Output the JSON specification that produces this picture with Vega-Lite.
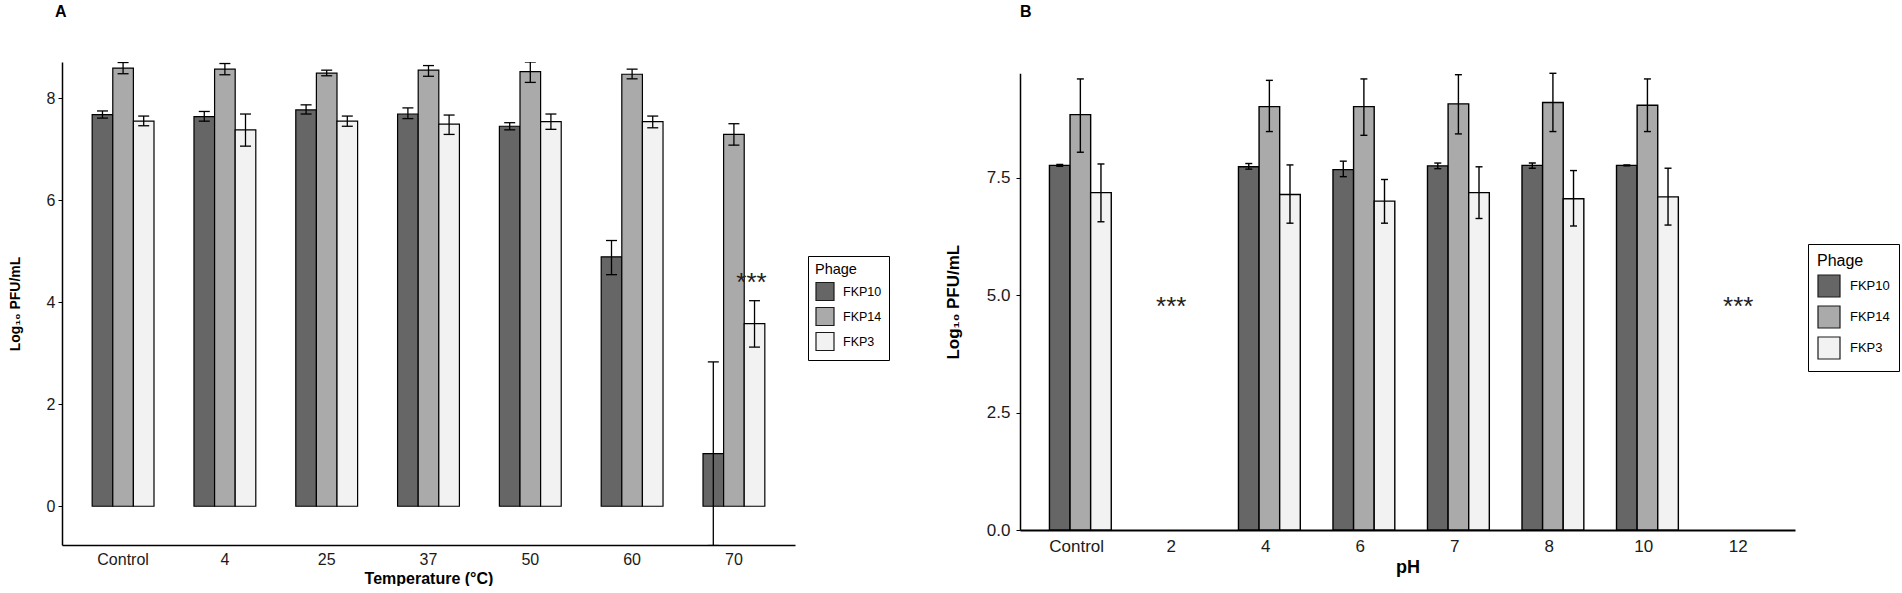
{
  "$schema": "https://vega.github.io/schema/vega-lite/v6.json",
  "padding": {"left": 8, "top": 4, "right": 0, "bottom": 0},
  "background": "white",
  "config": {
    "view": {"stroke": null},
    "axis": {"domainColor": "black", "tickColor": "black", "labelColor": "#1a1a1a", "titleColor": "black", "grid": false},
    "legend": {"strokeColor": "black", "symbolType": "square", "symbolStrokeColor": "#1a1a1a", "symbolStrokeWidth": 1.2, "symbolOpacity": 1, "labelColor": "black", "titleColor": "black", "titleFontWeight": "normal", "labelFont": "Liberation Sans", "titleFont": "Liberation Sans"}
  },
  "datasets": {
    "temp": [
      {"temp": "Control", "phage": "FKP10", "mean": 7.68, "lo": 7.61, "hi": 7.75},
      {"temp": "Control", "phage": "FKP14", "mean": 8.59, "lo": 8.48, "hi": 8.70},
      {"temp": "Control", "phage": "FKP3", "mean": 7.55, "lo": 7.46, "hi": 7.65},
      {"temp": "4", "phage": "FKP10", "mean": 7.64, "lo": 7.55, "hi": 7.74},
      {"temp": "4", "phage": "FKP14", "mean": 8.57, "lo": 8.46, "hi": 8.68},
      {"temp": "4", "phage": "FKP3", "mean": 7.38, "lo": 7.06, "hi": 7.69},
      {"temp": "25", "phage": "FKP10", "mean": 7.77, "lo": 7.69, "hi": 7.87},
      {"temp": "25", "phage": "FKP14", "mean": 8.49, "lo": 8.44, "hi": 8.55},
      {"temp": "25", "phage": "FKP3", "mean": 7.55, "lo": 7.45, "hi": 7.65},
      {"temp": "37", "phage": "FKP10", "mean": 7.69, "lo": 7.60, "hi": 7.81},
      {"temp": "37", "phage": "FKP14", "mean": 8.55, "lo": 8.43, "hi": 8.64},
      {"temp": "37", "phage": "FKP3", "mean": 7.49, "lo": 7.29, "hi": 7.67},
      {"temp": "50", "phage": "FKP10", "mean": 7.45, "lo": 7.38, "hi": 7.52},
      {"temp": "50", "phage": "FKP14", "mean": 8.52, "lo": 8.31, "hi": 8.71},
      {"temp": "50", "phage": "FKP3", "mean": 7.54, "lo": 7.39, "hi": 7.69},
      {"temp": "60", "phage": "FKP10", "mean": 4.89, "lo": 4.54, "hi": 5.21},
      {"temp": "60", "phage": "FKP14", "mean": 8.47, "lo": 8.38, "hi": 8.57},
      {"temp": "60", "phage": "FKP3", "mean": 7.54, "lo": 7.42, "hi": 7.65},
      {"temp": "70", "phage": "FKP10", "mean": 1.03, "lo": -0.77, "hi": 2.83},
      {"temp": "70", "phage": "FKP14", "mean": 7.29, "lo": 7.08, "hi": 7.50},
      {"temp": "70", "phage": "FKP3", "mean": 3.58, "lo": 3.12, "hi": 4.03}
    ],
    "temp_sig": [
      {"temp": "70", "phage": "FKP3", "y": 4.43, "label": "***"}
    ],
    "ph": [
      {"ph": "Control", "phage": "FKP10", "mean": 7.76, "lo": 7.74, "hi": 7.78},
      {"ph": "Control", "phage": "FKP14", "mean": 8.84, "lo": 8.04, "hi": 9.60},
      {"ph": "Control", "phage": "FKP3", "mean": 7.18, "lo": 6.56, "hi": 7.79},
      {"ph": "4", "phage": "FKP10", "mean": 7.73, "lo": 7.68, "hi": 7.80},
      {"ph": "4", "phage": "FKP14", "mean": 9.01, "lo": 8.48, "hi": 9.57},
      {"ph": "4", "phage": "FKP3", "mean": 7.14, "lo": 6.53, "hi": 7.77},
      {"ph": "6", "phage": "FKP10", "mean": 7.67, "lo": 7.52, "hi": 7.85},
      {"ph": "6", "phage": "FKP14", "mean": 9.01, "lo": 8.40, "hi": 9.60},
      {"ph": "6", "phage": "FKP3", "mean": 7.00, "lo": 6.53, "hi": 7.46},
      {"ph": "7", "phage": "FKP10", "mean": 7.75, "lo": 7.69, "hi": 7.81},
      {"ph": "7", "phage": "FKP14", "mean": 9.07, "lo": 8.43, "hi": 9.69},
      {"ph": "7", "phage": "FKP3", "mean": 7.18, "lo": 6.63, "hi": 7.73},
      {"ph": "8", "phage": "FKP10", "mean": 7.76, "lo": 7.70, "hi": 7.81},
      {"ph": "8", "phage": "FKP14", "mean": 9.10, "lo": 8.48, "hi": 9.72},
      {"ph": "8", "phage": "FKP3", "mean": 7.05, "lo": 6.47, "hi": 7.65},
      {"ph": "10", "phage": "FKP10", "mean": 7.76, "lo": 7.75, "hi": 7.77},
      {"ph": "10", "phage": "FKP14", "mean": 9.04, "lo": 8.48, "hi": 9.60},
      {"ph": "10", "phage": "FKP3", "mean": 7.09, "lo": 6.49, "hi": 7.70}
    ],
    "ph_sig": [
      {"ph": "2", "y": 4.8, "label": "***"},
      {"ph": "12", "y": 4.8, "label": "***"}
    ]
  },
  "spacing": 54,
  "resolve": {"scale": {"color": "independent"}, "legend": {"color": "independent"}},
  "hconcat": [
    {
      "title": {"text": "A", "anchor": "start", "frame": "group", "fontSize": 16, "fontWeight": "bold", "font": "Liberation Sans", "offset": 42, "dx": -7},
      "width": 733,
      "height": 483,
      "data": {"name": "temp"},
      "encoding": {
        "x": {
          "field": "temp", "type": "nominal",
          "sort": ["Control", "4", "25", "37", "50", "60", "70"],
          "scale": {"paddingInner": 0, "paddingOuter": 0.1},
          "axis": {"title": "Temperature (°C)", "labelAngle": 0, "ticks": false, "labelPadding": 6, "labelFontSize": 16, "labelFont": "Liberation Sans Narrow, Arial Narrow, sans-serif", "titleFont": "Liberation Sans Narrow, Arial Narrow, sans-serif", "titleFontSize": 16, "titleFontWeight": "bold", "titlePadding": 3, "domainWidth": 1.5}
        },
        "xOffset": {"field": "phage", "type": "nominal", "sort": ["FKP10", "FKP14", "FKP3"], "scale": {"paddingInner": 0, "paddingOuter": 0.97}}
      },
      "layer": [
        {
          "mark": {"type": "bar", "stroke": "black", "strokeWidth": 1.2},
          "encoding": {
            "y": {
              "field": "mean", "type": "quantitative",
              "scale": {"domain": [-0.76, 8.71], "nice": false, "zero": false},
              "axis": {"values": [0, 2, 4, 6, 8], "title": "Log₁₀ PFU/mL", "tickSize": 4, "labelPadding": 3, "labelFontSize": 16, "labelFont": "Liberation Sans Narrow, Arial Narrow, sans-serif", "titleFont": "Liberation Sans", "titleFontSize": 14, "titleFontWeight": "bold", "titlePadding": 24, "domainWidth": 1.5}
            },
            "color": {
              "field": "phage", "type": "nominal",
              "scale": {"domain": ["FKP10", "FKP14", "FKP3"], "range": ["#666666", "#aaaaaa", "#f2f2f2"]},
              "legend": {"title": "Phage", "orient": "none", "legendX": 746, "legendY": 194, "padding": 7, "titleFontSize": 14.5, "labelFontSize": 12.5, "symbolSize": 324, "rowPadding": 1, "labelOffset": 8, "titlePadding": 4}
            }
          }
        },
        {
          "mark": {"type": "rule", "color": "black", "strokeWidth": 1.3, "clip": true},
          "encoding": {"y": {"field": "lo", "type": "quantitative"}, "y2": {"field": "hi"}}
        },
        {
          "mark": {"type": "tick", "color": "black", "thickness": 1.3, "size": 11, "clip": true, "opacity": 1},
          "encoding": {"y": {"field": "lo", "type": "quantitative"}}
        },
        {
          "mark": {"type": "tick", "color": "black", "thickness": 1.3, "size": 11, "clip": true, "opacity": 1},
          "encoding": {"y": {"field": "hi", "type": "quantitative"}}
        },
        {
          "data": {"name": "temp_sig"},
          "mark": {"type": "text", "fontSize": 26, "font": "Liberation Sans", "color": "#222222", "baseline": "middle", "dx": -3, "dy": 3},
          "encoding": {"y": {"field": "y", "type": "quantitative"}, "text": {"field": "label"}}
        }
      ]
    },
    {
      "title": {"text": "B", "anchor": "start", "frame": "group", "fontSize": 16, "fontWeight": "bold", "font": "Liberation Sans", "offset": 42, "dx": 0},
      "width": 775,
      "height": 468,
      "data": {"name": "ph"},
      "encoding": {
        "x": {
          "field": "ph", "type": "nominal",
          "sort": ["Control", "2", "4", "6", "7", "8", "10", "12"],
          "scale": {"domain": ["Control", "2", "4", "6", "7", "8", "10", "12"], "paddingInner": 0, "paddingOuter": 0.1},
          "axis": {"title": "pH", "labelAngle": 0, "ticks": false, "labelPadding": 8, "labelFontSize": 17, "labelFont": "Liberation Sans Narrow, Arial Narrow, sans-serif", "titleFont": "Liberation Sans Narrow, Arial Narrow, sans-serif", "titleFontSize": 18, "titleFontWeight": "bold", "titlePadding": 4, "domainWidth": 1.8}
        }
      },
      "layer": [
        {
          "mark": {"type": "bar", "stroke": "black", "strokeWidth": 1.4},
          "encoding": {
            "xOffset": {"field": "phage", "type": "nominal", "sort": ["FKP10", "FKP14", "FKP3"], "scale": {"domain": ["FKP10", "FKP14", "FKP3"], "paddingInner": 0, "paddingOuter": 0.94}},
            "y": {
              "field": "mean", "type": "quantitative",
              "scale": {"domain": [0, 9.72], "range": [468, 11.3], "nice": false, "zero": false},
              "axis": {"values": [0, 2.5, 5, 7.5], "format": ".1f", "title": "Log₁₀ PFU/mL", "tickSize": 4, "labelPadding": 6, "labelFontSize": 17, "labelFont": "Liberation Sans Narrow, Arial Narrow, sans-serif", "titleFont": "Liberation Sans", "titleFontSize": 17, "titleFontWeight": "bold", "titlePadding": 24, "domainWidth": 1.5}
            },
            "color": {
              "field": "phage", "type": "nominal",
              "scale": {"domain": ["FKP10", "FKP14", "FKP3"], "range": ["#666666", "#aaaaaa", "#f2f2f2"]},
              "legend": {"title": "Phage", "orient": "none", "legendX": 788, "legendY": 182, "padding": 9, "titleFontSize": 16, "labelFontSize": 13, "symbolSize": 484, "rowPadding": 3, "labelOffset": 9, "titlePadding": 5}
            }
          }
        },
        {
          "mark": {"type": "rule", "color": "black", "strokeWidth": 1.4},
          "encoding": {
            "xOffset": {"field": "phage", "type": "nominal"},
            "y": {"field": "lo", "type": "quantitative"},
            "y2": {"field": "hi"}
          }
        },
        {
          "mark": {"type": "tick", "color": "black", "thickness": 1.4, "size": 7, "opacity": 1},
          "encoding": {
            "xOffset": {"field": "phage", "type": "nominal"},
            "y": {"field": "lo", "type": "quantitative"}
          }
        },
        {
          "mark": {"type": "tick", "color": "black", "thickness": 1.4, "size": 7, "opacity": 1},
          "encoding": {
            "xOffset": {"field": "phage", "type": "nominal"},
            "y": {"field": "hi", "type": "quantitative"}
          }
        },
        {
          "data": {"name": "ph_sig"},
          "mark": {"type": "text", "fontSize": 26, "font": "Liberation Sans", "color": "#222222", "baseline": "middle", "dy": 3},
          "encoding": {
            "y": {"field": "y", "type": "quantitative"},
            "text": {"field": "label"}
          }
        }
      ]
    }
  ]
}
